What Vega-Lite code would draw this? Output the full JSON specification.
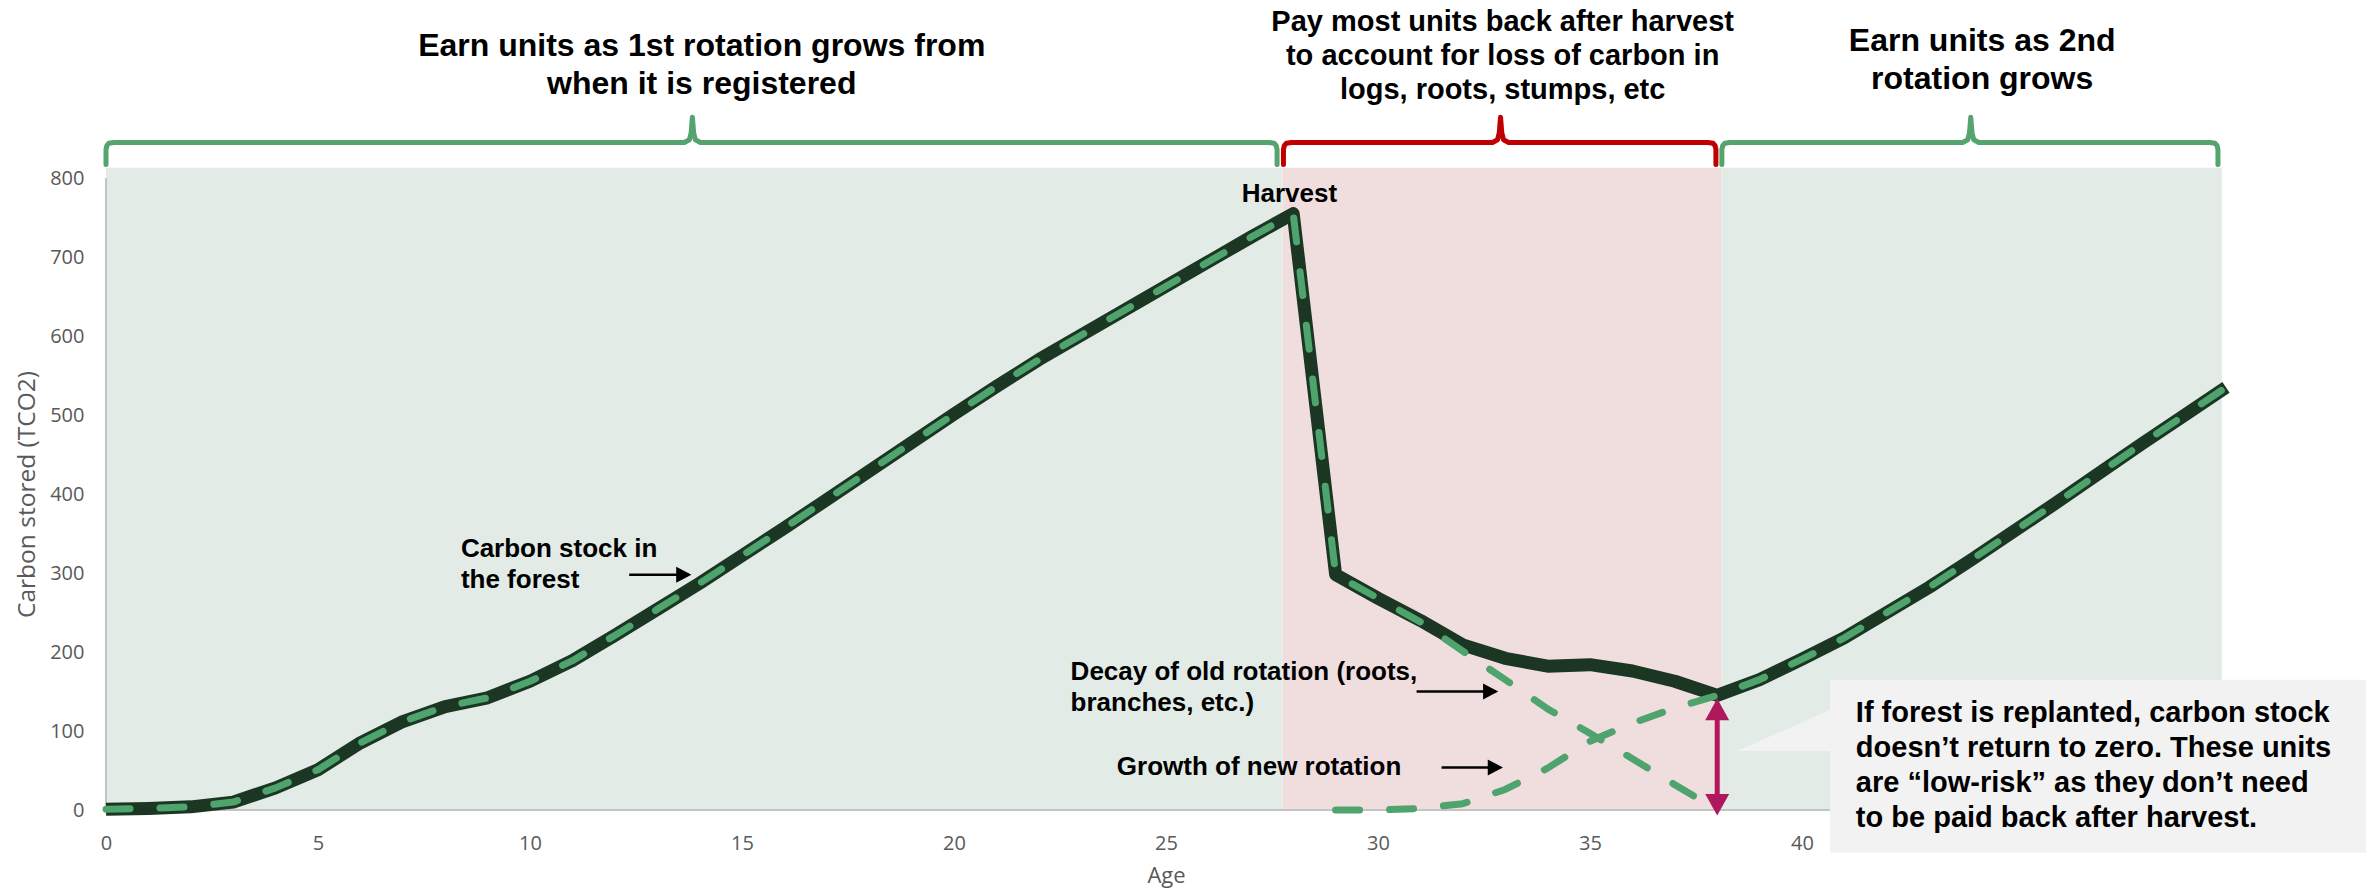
{
  "$schema": "https://vega.github.io/schema/vega-lite/v6.json",
  "width": 2120,
  "height": 632,
  "autosize": {"type": "none"},
  "padding": {"left": 106, "top": 178, "right": 140, "bottom": 79},
  "background": "#ffffff",
  "config": {
    "view": {"stroke": null},
    "font": "Liberation Sans",
    "axis": {
      "grid": false,
      "domain": false,
      "ticks": false,
      "labelFont": "Open Sans",
      "labelFontSize": 20,
      "labelColor": "#595959",
      "titleFont": "Open Sans",
      "titleFontSize": 22,
      "titleFontWeight": "normal",
      "titleColor": "#595959"
    },
    "axisX": {"labelPadding": 23, "titlePadding": 12, "labelFlush": false, "labelOverlap": false},
    "axisY": {"labelPadding": 22, "titlePadding": 10, "titleFontSize": 24.5}
  },
  "datasets": {
    "zones": [
      {"age": 0, "end": 27.75, "value": 813, "floor": 0, "zone": "earn"},
      {"age": 27.75, "end": 38.1, "value": 813, "floor": 0, "zone": "pay"},
      {"age": 38.1, "end": 49.9, "value": 813, "floor": 0, "zone": "earn"}
    ],
    "frame": [
      {"age": 0, "end": 50, "value": 0, "top": 0},
      {"age": 0, "end": 0, "value": 0, "top": 800}
    ],
    "callout": [
      {"age": 40.66, "end": 54, "value": 165, "bottom": -54}
    ],
    "wedge": [
      {"age": 38.47, "value": 74.8, "base": 74.8},
      {"age": 40.7, "value": 127.6, "base": 74.8}
    ],
    "stock": [
      {"age": 0, "value": 1}, {"age": 1, "value": 2}, {"age": 2, "value": 4}, {"age": 3, "value": 10},
      {"age": 4, "value": 28}, {"age": 5, "value": 51}, {"age": 6, "value": 85}, {"age": 7, "value": 112},
      {"age": 8, "value": 131}, {"age": 9, "value": 142}, {"age": 10, "value": 163}, {"age": 11, "value": 189},
      {"age": 12, "value": 221}, {"age": 13, "value": 254}, {"age": 14, "value": 287}, {"age": 15, "value": 322},
      {"age": 16, "value": 357}, {"age": 17, "value": 393}, {"age": 18, "value": 429}, {"age": 19, "value": 465},
      {"age": 20, "value": 501}, {"age": 21, "value": 536}, {"age": 22, "value": 570}, {"age": 23, "value": 601},
      {"age": 24, "value": 632}, {"age": 25, "value": 663}, {"age": 26, "value": 694}, {"age": 27, "value": 725},
      {"age": 28, "value": 755}, {"age": 29, "value": 298}, {"age": 30, "value": 268}, {"age": 31, "value": 240},
      {"age": 32, "value": 209}, {"age": 33, "value": 192}, {"age": 34, "value": 182}, {"age": 35, "value": 184},
      {"age": 36, "value": 176}, {"age": 37, "value": 163}, {"age": 38, "value": 145}, {"age": 39, "value": 165},
      {"age": 40, "value": 191}, {"age": 41, "value": 218}, {"age": 42, "value": 250}, {"age": 43, "value": 282},
      {"age": 44, "value": 317}, {"age": 45, "value": 353}, {"age": 46, "value": 389}, {"age": 47, "value": 426},
      {"age": 48, "value": 463}, {"age": 49, "value": 499}, {"age": 50, "value": 535}
    ],
    "rotations": [
      {"rotation": "1st", "age": 0, "value": 1}, {"rotation": "1st", "age": 1, "value": 2},
      {"rotation": "1st", "age": 2, "value": 4}, {"rotation": "1st", "age": 3, "value": 10},
      {"rotation": "1st", "age": 4, "value": 28}, {"rotation": "1st", "age": 5, "value": 51},
      {"rotation": "1st", "age": 6, "value": 85}, {"rotation": "1st", "age": 7, "value": 112},
      {"rotation": "1st", "age": 8, "value": 131}, {"rotation": "1st", "age": 9, "value": 142},
      {"rotation": "1st", "age": 10, "value": 163}, {"rotation": "1st", "age": 11, "value": 189},
      {"rotation": "1st", "age": 12, "value": 221}, {"rotation": "1st", "age": 13, "value": 254},
      {"rotation": "1st", "age": 14, "value": 287}, {"rotation": "1st", "age": 15, "value": 322},
      {"rotation": "1st", "age": 16, "value": 357}, {"rotation": "1st", "age": 17, "value": 393},
      {"rotation": "1st", "age": 18, "value": 429}, {"rotation": "1st", "age": 19, "value": 465},
      {"rotation": "1st", "age": 20, "value": 501}, {"rotation": "1st", "age": 21, "value": 536},
      {"rotation": "1st", "age": 22, "value": 570}, {"rotation": "1st", "age": 23, "value": 601},
      {"rotation": "1st", "age": 24, "value": 632}, {"rotation": "1st", "age": 25, "value": 663},
      {"rotation": "1st", "age": 26, "value": 694}, {"rotation": "1st", "age": 27, "value": 725},
      {"rotation": "1st", "age": 28, "value": 755}, {"rotation": "1st", "age": 29, "value": 298},
      {"rotation": "1st", "age": 30, "value": 268}, {"rotation": "1st", "age": 31, "value": 238},
      {"rotation": "1st", "age": 32, "value": 201}, {"rotation": "1st", "age": 33, "value": 165},
      {"rotation": "1st", "age": 34, "value": 128}, {"rotation": "1st", "age": 35, "value": 97},
      {"rotation": "1st", "age": 36, "value": 65}, {"rotation": "1st", "age": 37, "value": 32},
      {"rotation": "1st", "age": 38, "value": 0},
      {"rotation": "2nd", "age": 29, "value": 0}, {"rotation": "2nd", "age": 30, "value": 0},
      {"rotation": "2nd", "age": 31, "value": 2}, {"rotation": "2nd", "age": 32, "value": 8},
      {"rotation": "2nd", "age": 33, "value": 26}, {"rotation": "2nd", "age": 34, "value": 53},
      {"rotation": "2nd", "age": 35, "value": 87}, {"rotation": "2nd", "age": 36, "value": 110},
      {"rotation": "2nd", "age": 37, "value": 129}, {"rotation": "2nd", "age": 38, "value": 145},
      {"rotation": "2nd", "age": 39, "value": 165}, {"rotation": "2nd", "age": 40, "value": 191},
      {"rotation": "2nd", "age": 41, "value": 218}, {"rotation": "2nd", "age": 42, "value": 250},
      {"rotation": "2nd", "age": 43, "value": 282}, {"rotation": "2nd", "age": 44, "value": 317},
      {"rotation": "2nd", "age": 45, "value": 353}, {"rotation": "2nd", "age": 46, "value": 389},
      {"rotation": "2nd", "age": 47, "value": 426}, {"rotation": "2nd", "age": 48, "value": 463},
      {"rotation": "2nd", "age": 49, "value": 499}, {"rotation": "2nd", "age": 50, "value": 535}
    ],
    "gapShaft": [
      {"age": 38, "value": 116, "bottom": 18}
    ],
    "gapHeads": [
      {"age": 38, "value": 141, "dir": "up"},
      {"age": 38, "value": -7, "dir": "down"}
    ],
    "pointers": [
      {"age": 12.34, "to": 13.75, "value": 297.8},
      {"age": 30.91, "to": 32.78, "value": 150},
      {"age": 31.5, "to": 32.89, "value": 53.9}
    ],
    "braces": [
      {"brace": "first", "kind": "earn", "i": 1, "age": 0, "value": 817},
      {"brace": "first", "kind": "earn", "i": 2, "age": 0, "value": 836},
      {"brace": "first", "kind": "earn", "i": 3, "age": 0.02, "value": 841},
      {"brace": "first", "kind": "earn", "i": 4, "age": 0.07, "value": 844},
      {"brace": "first", "kind": "earn", "i": 5, "age": 0.19, "value": 845},
      {"brace": "first", "kind": "earn", "i": 6, "age": 13.64, "value": 845},
      {"brace": "first", "kind": "earn", "i": 7, "age": 13.76, "value": 848.5},
      {"brace": "first", "kind": "earn", "i": 8, "age": 13.8, "value": 857},
      {"brace": "first", "kind": "earn", "i": 9, "age": 13.83, "value": 877},
      {"brace": "first", "kind": "earn", "i": 10, "age": 13.86, "value": 857},
      {"brace": "first", "kind": "earn", "i": 11, "age": 13.9, "value": 848.5},
      {"brace": "first", "kind": "earn", "i": 12, "age": 14.02, "value": 845},
      {"brace": "first", "kind": "earn", "i": 13, "age": 27.43, "value": 845},
      {"brace": "first", "kind": "earn", "i": 14, "age": 27.55, "value": 844},
      {"brace": "first", "kind": "earn", "i": 15, "age": 27.6, "value": 841},
      {"brace": "first", "kind": "earn", "i": 16, "age": 27.62, "value": 836},
      {"brace": "first", "kind": "earn", "i": 17, "age": 27.62, "value": 817},
      {"brace": "harvest", "kind": "pay", "i": 1, "age": 27.77, "value": 817},
      {"brace": "harvest", "kind": "pay", "i": 2, "age": 27.77, "value": 836},
      {"brace": "harvest", "kind": "pay", "i": 3, "age": 27.79, "value": 841},
      {"brace": "harvest", "kind": "pay", "i": 4, "age": 27.84, "value": 844},
      {"brace": "harvest", "kind": "pay", "i": 5, "age": 27.96, "value": 845},
      {"brace": "harvest", "kind": "pay", "i": 6, "age": 32.7, "value": 845},
      {"brace": "harvest", "kind": "pay", "i": 7, "age": 32.82, "value": 848.5},
      {"brace": "harvest", "kind": "pay", "i": 8, "age": 32.86, "value": 857},
      {"brace": "harvest", "kind": "pay", "i": 9, "age": 32.89, "value": 877},
      {"brace": "harvest", "kind": "pay", "i": 10, "age": 32.92, "value": 857},
      {"brace": "harvest", "kind": "pay", "i": 11, "age": 32.96, "value": 848.5},
      {"brace": "harvest", "kind": "pay", "i": 12, "age": 33.08, "value": 845},
      {"brace": "harvest", "kind": "pay", "i": 13, "age": 37.78, "value": 845},
      {"brace": "harvest", "kind": "pay", "i": 14, "age": 37.9, "value": 844},
      {"brace": "harvest", "kind": "pay", "i": 15, "age": 37.95, "value": 841},
      {"brace": "harvest", "kind": "pay", "i": 16, "age": 37.97, "value": 836},
      {"brace": "harvest", "kind": "pay", "i": 17, "age": 37.97, "value": 817},
      {"brace": "second", "kind": "earn", "i": 1, "age": 38.11, "value": 817},
      {"brace": "second", "kind": "earn", "i": 2, "age": 38.11, "value": 836},
      {"brace": "second", "kind": "earn", "i": 3, "age": 38.13, "value": 841},
      {"brace": "second", "kind": "earn", "i": 4, "age": 38.18, "value": 844},
      {"brace": "second", "kind": "earn", "i": 5, "age": 38.3, "value": 845},
      {"brace": "second", "kind": "earn", "i": 6, "age": 43.79, "value": 845},
      {"brace": "second", "kind": "earn", "i": 7, "age": 43.91, "value": 848.5},
      {"brace": "second", "kind": "earn", "i": 8, "age": 43.95, "value": 857},
      {"brace": "second", "kind": "earn", "i": 9, "age": 43.98, "value": 877},
      {"brace": "second", "kind": "earn", "i": 10, "age": 44.01, "value": 857},
      {"brace": "second", "kind": "earn", "i": 11, "age": 44.05, "value": 848.5},
      {"brace": "second", "kind": "earn", "i": 12, "age": 44.17, "value": 845},
      {"brace": "second", "kind": "earn", "i": 13, "age": 49.62, "value": 845},
      {"brace": "second", "kind": "earn", "i": 14, "age": 49.74, "value": 844},
      {"brace": "second", "kind": "earn", "i": 15, "age": 49.79, "value": 841},
      {"brace": "second", "kind": "earn", "i": 16, "age": 49.81, "value": 836},
      {"brace": "second", "kind": "earn", "i": 17, "age": 49.81, "value": 817}
    ],
    "earnHeadings": [
      {"text": ["Earn units as 1st rotation grows from", "when it is registered"], "age": 14.05, "value": 953.9},
      {"text": ["Earn units as 2nd", "rotation grows"], "age": 44.25, "value": 960.3}
    ],
    "payHeading": [
      {"text": ["Pay most units back after harvest", "to account for loss of carbon in", "logs, roots, stumps, etc"], "age": 32.94, "value": 985.6}
    ],
    "harvestLabel": [
      {"text": "Harvest", "age": 27.91, "value": 769}
    ],
    "seriesLabels": [
      {"text": ["Carbon stock in", "the forest"], "age": 8.37, "value": 320},
      {"text": ["Decay of old rotation (roots,", "branches, etc.)"], "age": 22.75, "value": 164},
      {"text": "Growth of new rotation", "age": 23.84, "value": 43.8}
    ],
    "calloutText": [
      {"text": ["If forest is replanted, carbon stock", "doesn’t return to zero. These units", "are “low-risk” as they don’t need", "to be paid back after harvest."], "age": 41.27, "value": 112}
    ]
  },
  "encoding": {
    "x": {
      "field": "age",
      "type": "quantitative",
      "title": "Age",
      "scale": {"domain": [0, 50], "nice": false, "zero": false},
      "axis": {"values": [0, 5, 10, 15, 20, 25, 30, 35, 40, 45, 50]}
    },
    "y": {
      "field": "value",
      "type": "quantitative",
      "title": "Carbon stored (TCO2)",
      "scale": {"domain": [0, 800], "nice": false},
      "axis": {"values": [0, 100, 200, 300, 400, 500, 600, 700, 800]}
    }
  },
  "layer": [
    {
      "data": {"name": "zones"},
      "mark": {"type": "rect"},
      "encoding": {
        "x2": {"field": "end"},
        "y2": {"field": "floor"},
        "fill": {"field": "zone", "type": "nominal", "scale": {"domain": ["earn", "pay"], "range": ["#e2ebe6", "#f0dedf"]}, "legend": null}
      }
    },
    {
      "data": {"name": "frame"},
      "mark": {"type": "rule", "color": "#c4c4c4", "strokeWidth": 2},
      "encoding": {"x2": {"field": "end"}, "y2": {"field": "top"}}
    },
    {
      "data": {"name": "callout"},
      "mark": {"type": "rect", "color": "#f2f2f2"},
      "encoding": {"x2": {"field": "end"}, "y2": {"field": "bottom"}}
    },
    {
      "data": {"name": "wedge"},
      "mark": {"type": "area", "color": "#f2f2f2", "opacity": 1},
      "encoding": {"y2": {"field": "base"}}
    },
    {
      "data": {"name": "stock"},
      "mark": {"type": "line", "color": "#1b3723", "strokeWidth": 13, "strokeJoin": "round"},
      "encoding": {}
    },
    {
      "data": {"name": "rotations"},
      "mark": {"type": "line", "color": "#4fa36c", "strokeWidth": 7, "strokeDash": [24, 30], "strokeCap": "round", "strokeJoin": "round"},
      "encoding": {"detail": {"field": "rotation", "type": "nominal"}}
    },
    {
      "data": {"name": "gapShaft"},
      "mark": {"type": "rule", "color": "#b0185e", "strokeWidth": 5},
      "encoding": {"y2": {"field": "bottom"}}
    },
    {
      "data": {"name": "gapHeads"},
      "mark": {"type": "point", "filled": true, "color": "#b0185e", "opacity": 1, "size": 576},
      "encoding": {
        "shape": {"field": "dir", "type": "nominal", "scale": {"domain": ["up", "down"], "range": ["M0,0L1,1.8L-1,1.8Z", "M0,0L1,-1.8L-1,-1.8Z"]}, "legend": null}
      }
    },
    {
      "data": {"name": "pointers"},
      "mark": {"type": "rule", "color": "#000000", "strokeWidth": 2.5},
      "encoding": {"x2": {"field": "to"}}
    },
    {
      "data": {"name": "pointers"},
      "mark": {"type": "point", "filled": true, "color": "#000000", "opacity": 1, "size": 256, "shape": "M0.3,0L-1.6,-1L-1.6,1Z"},
      "encoding": {"x": {"field": "to", "type": "quantitative", "title": "Age"}}
    },
    {
      "data": {"name": "braces"},
      "mark": {"type": "line", "strokeWidth": 5, "strokeJoin": "round", "strokeCap": "round"},
      "encoding": {
        "detail": {"field": "brace", "type": "nominal"},
        "order": {"field": "i", "type": "quantitative"},
        "stroke": {"field": "kind", "type": "nominal", "scale": {"domain": ["earn", "pay"], "range": ["#55a46f", "#c00000"]}, "legend": null}
      }
    },
    {
      "data": {"name": "earnHeadings"},
      "mark": {"type": "text", "font": "Liberation Sans", "fontWeight": "bold", "fontSize": 32, "lineHeight": 38, "align": "center", "baseline": "alphabetic", "color": "#000000"},
      "encoding": {"text": {"field": "text", "type": "nominal"}}
    },
    {
      "data": {"name": "payHeading"},
      "mark": {"type": "text", "font": "Liberation Sans", "fontWeight": "bold", "fontSize": 29, "lineHeight": 34, "align": "center", "baseline": "alphabetic", "color": "#000000"},
      "encoding": {"text": {"field": "text", "type": "nominal"}}
    },
    {
      "data": {"name": "harvestLabel"},
      "mark": {"type": "text", "font": "Liberation Sans", "fontWeight": "bold", "fontSize": 26, "align": "center", "baseline": "alphabetic", "color": "#000000"},
      "encoding": {"text": {"field": "text", "type": "nominal"}}
    },
    {
      "data": {"name": "seriesLabels"},
      "mark": {"type": "text", "font": "Liberation Sans", "fontWeight": "bold", "fontSize": 26, "lineHeight": 31, "align": "left", "baseline": "alphabetic", "color": "#000000"},
      "encoding": {"text": {"field": "text", "type": "nominal"}}
    },
    {
      "data": {"name": "calloutText"},
      "mark": {"type": "text", "font": "Liberation Sans", "fontWeight": "bold", "fontSize": 29, "lineHeight": 35, "align": "left", "baseline": "alphabetic", "color": "#000000"},
      "encoding": {"text": {"field": "text", "type": "nominal"}}
    }
  ]
}
